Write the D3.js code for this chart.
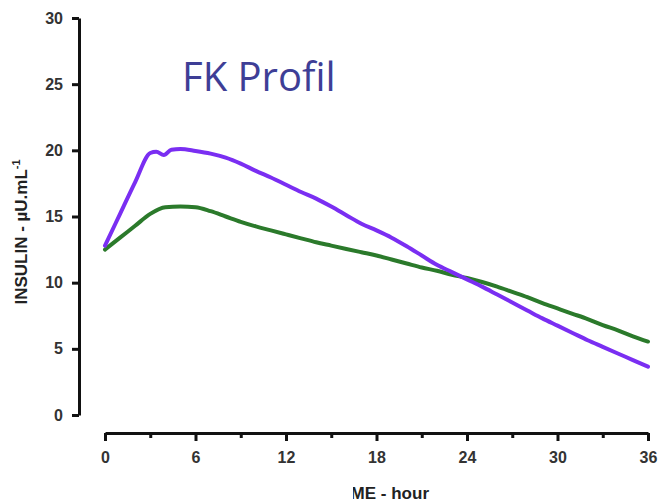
<!DOCTYPE html>
<html>
<head>
<meta charset="utf-8">
<script src="https://cdn.jsdelivr.net/npm/d3@7"></script>
<style>
  html, body { margin: 0; padding: 0; background: #fff; }
  svg { display: block; }
</style>
</head>
<body>
<svg id="chart" width="659" height="502"></svg>
<script>
// Insulin profile over 36 hours, two formulations
const hours = [0, 1, 2, 3, 3.4, 3.9, 4.4, 5, 6, 7, 8, 9, 10, 11, 12, 13, 14, 15, 16, 17, 18,
  19, 20, 21, 22, 23, 24, 25, 26, 27, 28, 29, 30, 31, 32, 33, 34, 35, 36];
const purpleSeries = [12.8, 15.2, 17.6, 19.8, 19.9, 19.65, 20.05, 20.1, 19.95, 19.75, 19.45,
  19.0, 18.45, 17.95, 17.4, 16.85, 16.35, 15.75, 15.1, 14.45, 13.95, 13.4, 12.75, 12.05, 11.35,
  10.8, 10.25, 9.7, 9.1, 8.5, 7.9, 7.3, 6.75, 6.2, 5.65, 5.15, 4.65, 4.15, 3.65];

const greenHours = [0, 1, 2, 3, 4, 5, 6, 7, 8, 9, 10, 11, 12, 13, 14, 15, 16, 17, 18, 19, 20,
  21, 22, 23, 24, 25, 26, 27, 28, 29, 30, 31, 32, 33, 34, 35, 36];
const greenSeries = [12.5, 13.4, 14.3, 15.2, 15.7, 15.75, 15.7, 15.4, 15.0, 14.6, 14.25, 13.95,
  13.65, 13.35, 13.05, 12.8, 12.55, 12.3, 12.05, 11.75, 11.45, 11.15, 10.9, 10.6, 10.35, 10.05,
  9.7, 9.3, 8.9, 8.45, 8.05, 7.65, 7.25, 6.8, 6.4, 5.95, 5.55];

const xTicks = [0, 6, 12, 18, 24, 30, 36];
const xMinorTicks = [3, 9, 15, 21, 27, 33];
const yTicks = [0, 5, 10, 15, 20, 25, 30];

const svg = d3.select("#chart");
const x = d3.scaleLinear().domain([0, 36]).range([105, 648]);
const y = d3.scaleLinear().domain([0, 30]).range([415, 18]);

const axisColor = "#111";
const labelColor = "#333";
const font = "Liberation Sans, Arial, sans-serif";

// Y axis
const yAxis = svg.append("g").attr("transform", "translate(79,0)")
  .call(d3.axisLeft(y).tickValues(yTicks).tickSize(7).tickPadding(9).tickSizeOuter(0));
yAxis.select(".domain").attr("stroke", axisColor).attr("stroke-width", 3);
yAxis.selectAll(".tick line").attr("stroke", axisColor).attr("stroke-width", 3);
yAxis.selectAll(".tick text")
  .attr("fill", labelColor).attr("font-family", font)
  .attr("font-weight", "bold").attr("font-size", 16);

// X axis with major and minor ticks
const xAxis = svg.append("g").attr("transform", "translate(0,433)")
  .call(d3.axisBottom(x).tickValues(xTicks).tickSize(8).tickPadding(11).tickSizeOuter(0));
xAxis.select(".domain").attr("stroke", axisColor).attr("stroke-width", 3);
xAxis.selectAll(".tick line").attr("stroke", axisColor).attr("stroke-width", 3);
xAxis.selectAll(".tick text")
  .attr("fill", labelColor).attr("font-family", font)
  .attr("font-weight", "bold").attr("font-size", 16);
svg.append("g").attr("transform", "translate(0,433)")
  .call(d3.axisBottom(x).tickValues(xMinorTicks).tickSize(5).tickFormat(""))
  .call(g => g.select(".domain").remove())
  .selectAll(".tick line").attr("stroke", axisColor).attr("stroke-width", 3);

// Curves
const line = d3.line().curve(d3.curveMonotoneX);
svg.append("path")
  .attr("d", line(greenHours.map((h, i) => [x(h), y(greenSeries[i])])))
  .attr("fill", "none").attr("stroke", "#2b7a2b").attr("stroke-width", 4)
  .attr("stroke-linejoin", "round").attr("stroke-linecap", "round");
svg.append("path")
  .attr("d", line(hours.map((h, i) => [x(h), y(purpleSeries[i])])))
  .attr("fill", "none").attr("stroke", "#7a2ef2").attr("stroke-width", 4)
  .attr("stroke-linejoin", "round").attr("stroke-linecap", "round");

// Y axis title
const yTitle = svg.append("text")
  .attr("transform", "translate(27,232) rotate(-90)")
  .attr("text-anchor", "middle")
  .attr("font-family", font)
  .attr("font-weight", "bold").attr("font-size", 17).attr("fill", "#222");
yTitle.append("tspan").text("INSULIN - µU.mL");
yTitle.append("tspan").attr("dy", -7).attr("font-size", 11).text("-1");

// X axis title, left part hidden under a white band
svg.append("text")
  .attr("x", 429).attr("y", 499).attr("text-anchor", "end")
  .attr("font-family", font)
  .attr("font-weight", "bold").attr("font-size", 17).attr("fill", "#222")
  .text("TIME - hour");
svg.append("rect").attr("x", 250).attr("y", 476).attr("width", 103).attr("height", 26)
  .attr("fill", "#fff");

// Chart heading
svg.append("text")
  .attr("x", 182).attr("y", 91)
  .attr("font-family", "Open Sans, sans-serif")
  .attr("font-size", 40).attr("fill", "#3e3e96")
  .text("FK Profil");
</script>
</body>
</html>
